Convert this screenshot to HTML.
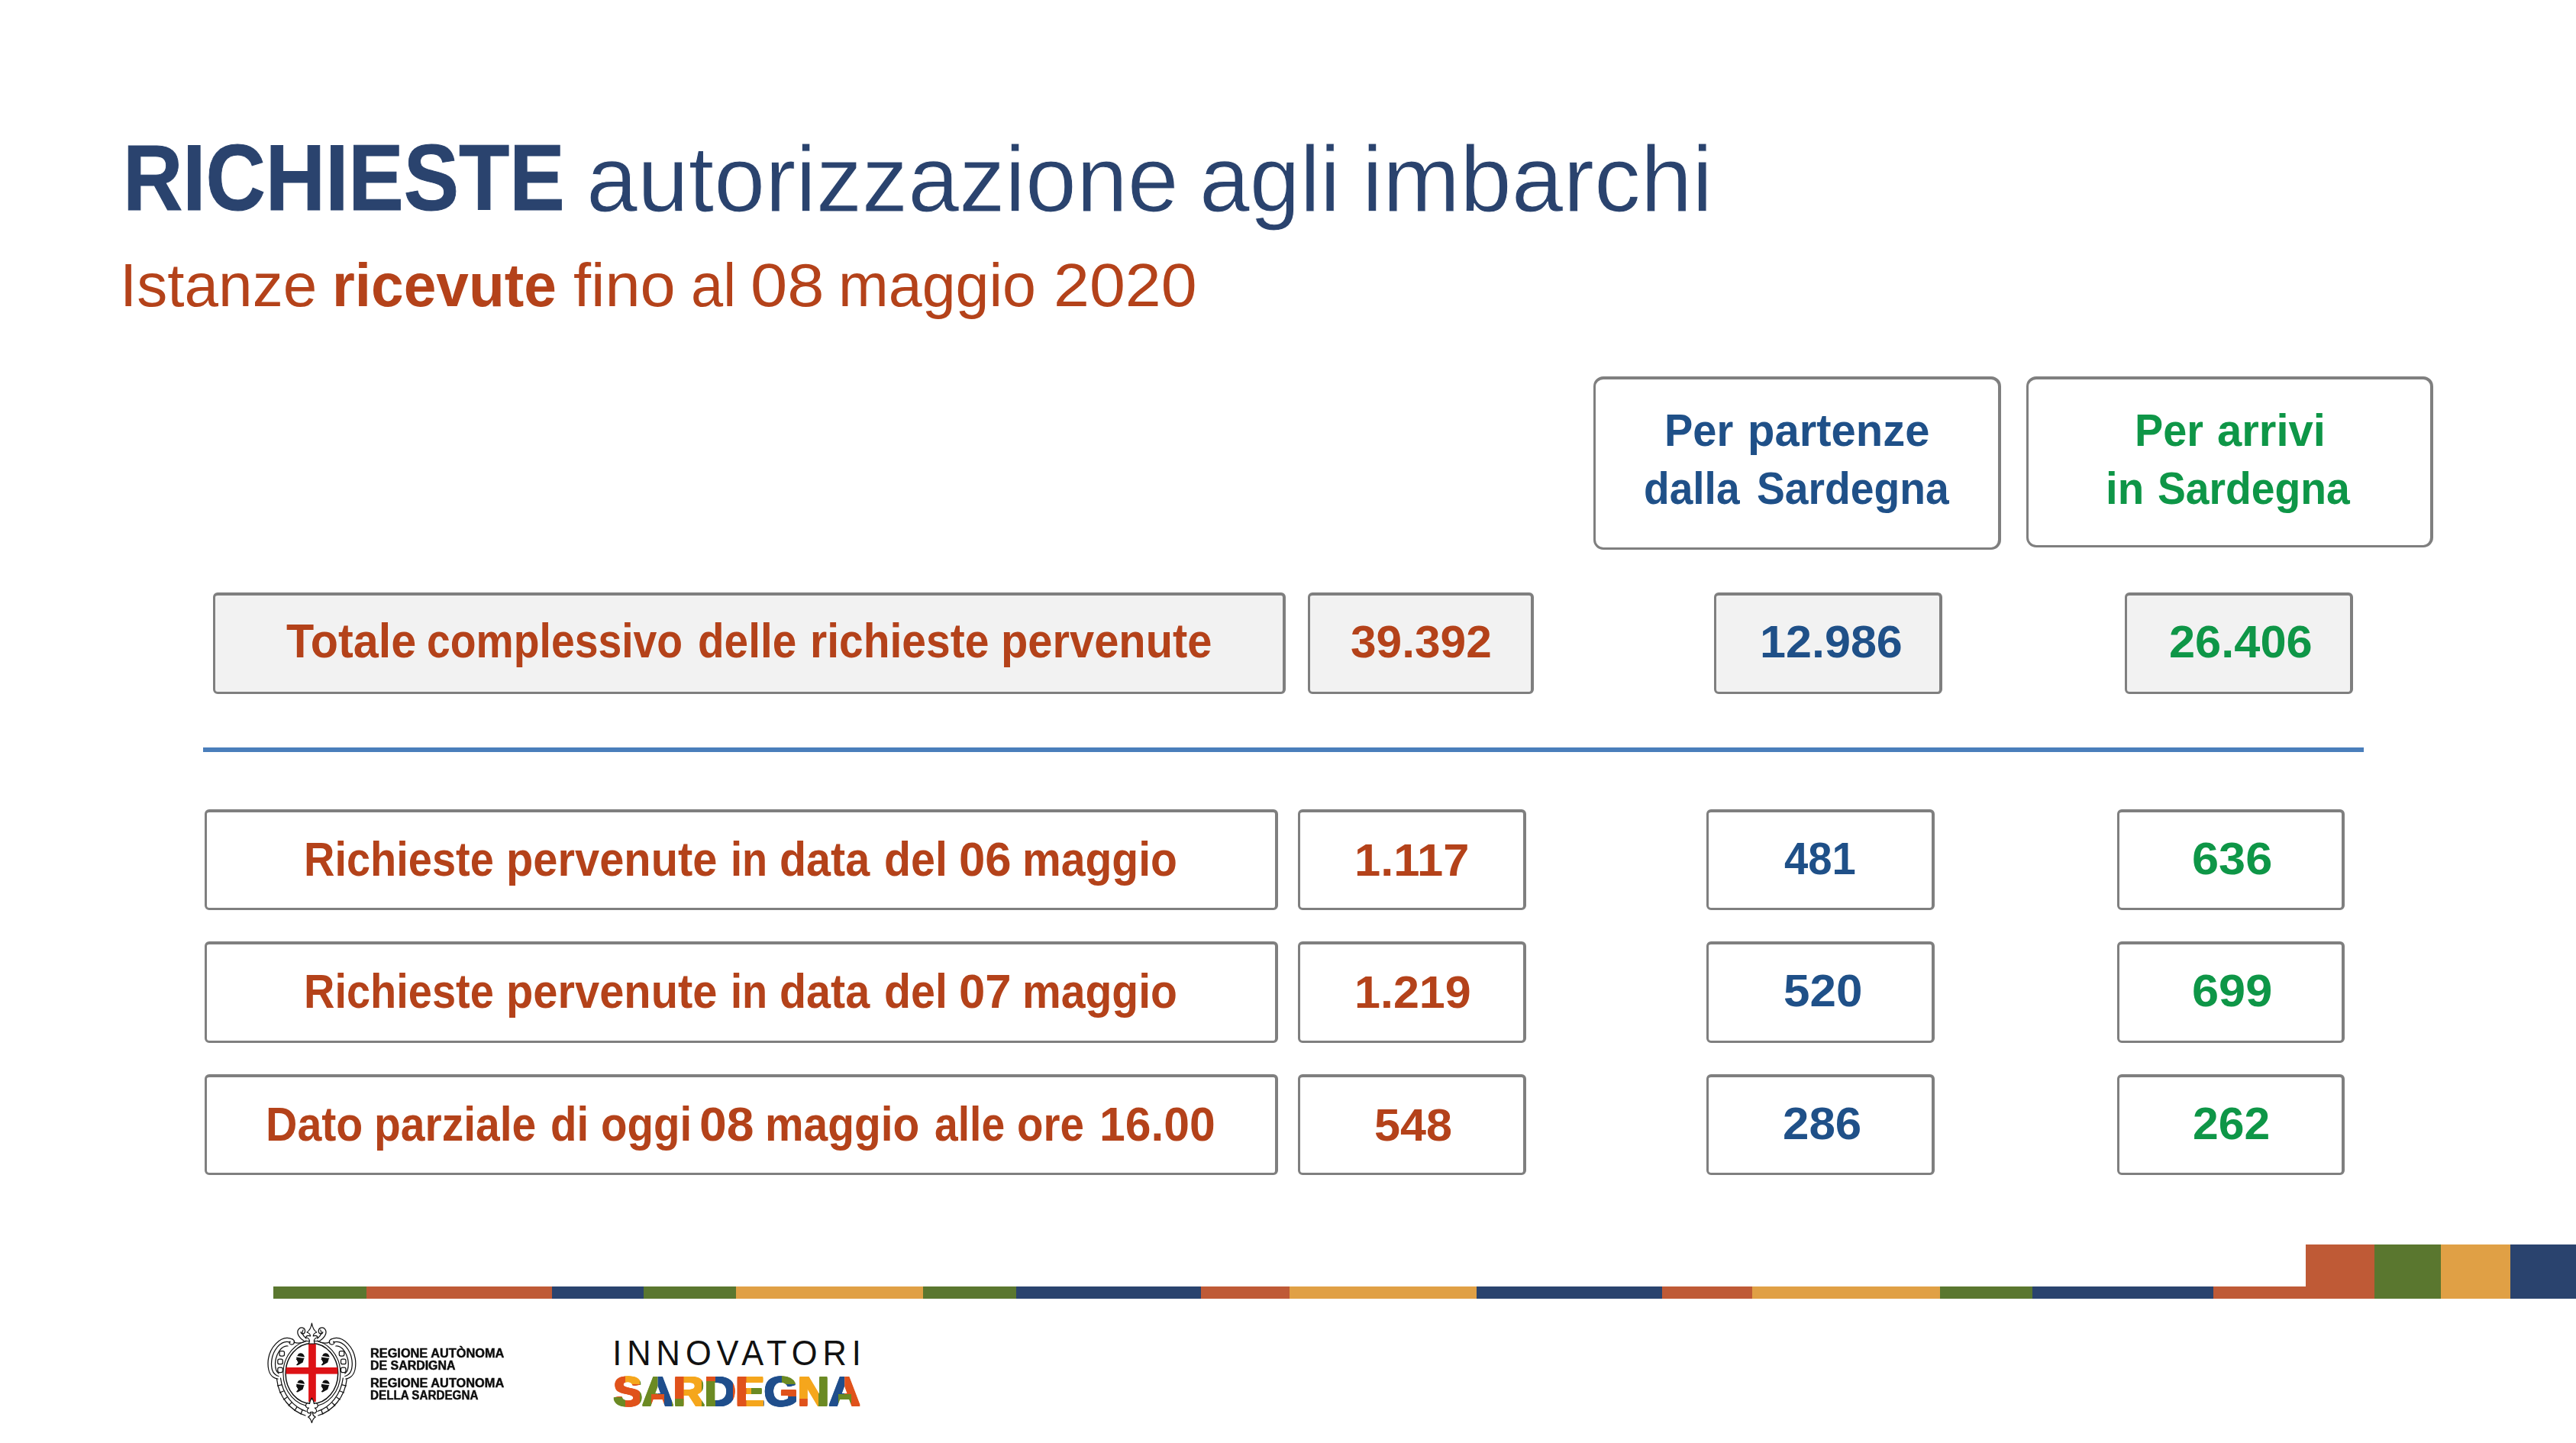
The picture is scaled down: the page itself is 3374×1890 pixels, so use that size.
<!DOCTYPE html>
<html><head><meta charset="utf-8"><title>Richieste autorizzazione agli imbarchi</title>
<style>
html,body{margin:0;padding:0;background:#fff;}
body{width:3374px;height:1890px;position:relative;overflow:hidden;font-family:"Liberation Sans",sans-serif;}
.t{position:absolute;white-space:nowrap;line-height:1;transform-origin:0 0;}
.bx{position:absolute;box-sizing:border-box;border-style:solid;border-color:#7F7F7F;}
.thin{-webkit-text-stroke:1px #fff;}
.fat{-webkit-text-stroke:1px #2A436E;}
.thin2{-webkit-text-stroke:0.8px #fff;}
.fatk{-webkit-text-stroke:0.45px #0d0d0d;}
.seg{position:absolute;}
</style></head><body>
<div class="bx" style="left:2087.3px;top:492.6px;width:533.7px;height:227.5px;background:#fff;border-radius:13px;border-width:4px 4px 3px 3px"></div>
<div class="bx" style="left:2654.4px;top:492.6px;width:532.6px;height:224.6px;background:#fff;border-radius:13px;border-width:4px 4px 3px 3px"></div>
<div class="bx" style="left:278.8px;top:776.0px;width:1405.5px;height:132.8px;background:#F2F2F2;border-radius:6px;border-width:4px 4px 3px 3px"></div>
<div class="bx" style="left:1712.7px;top:776.0px;width:295.9px;height:132.8px;background:#F2F2F2;border-radius:6px;border-width:4px 4px 3px 3px"></div>
<div class="bx" style="left:2245.0px;top:776.0px;width:298.7px;height:132.8px;background:#F2F2F2;border-radius:6px;border-width:4px 4px 3px 3px"></div>
<div class="bx" style="left:2783.1px;top:776.0px;width:298.7px;height:132.8px;background:#F2F2F2;border-radius:6px;border-width:4px 4px 3px 3px"></div>
<div class="bx" style="left:268.0px;top:1059.9px;width:1405.8px;height:132.1px;background:#fff;border-radius:6px;border-width:4px 4px 3px 3px"></div>
<div class="bx" style="left:1699.8px;top:1059.9px;width:299.0px;height:132.1px;background:#fff;border-radius:6px;border-width:4px 4px 3px 3px"></div>
<div class="bx" style="left:2235.1px;top:1059.9px;width:298.7px;height:132.1px;background:#fff;border-radius:6px;border-width:4px 4px 3px 3px"></div>
<div class="bx" style="left:2772.5px;top:1059.9px;width:298.9px;height:132.1px;background:#fff;border-radius:6px;border-width:4px 4px 3px 3px"></div>
<div class="bx" style="left:268.0px;top:1233.0px;width:1405.8px;height:132.6px;background:#fff;border-radius:6px;border-width:4px 4px 3px 3px"></div>
<div class="bx" style="left:1699.8px;top:1233.0px;width:299.0px;height:132.6px;background:#fff;border-radius:6px;border-width:4px 4px 3px 3px"></div>
<div class="bx" style="left:2235.1px;top:1233.0px;width:298.7px;height:132.6px;background:#fff;border-radius:6px;border-width:4px 4px 3px 3px"></div>
<div class="bx" style="left:2772.5px;top:1233.0px;width:298.9px;height:132.6px;background:#fff;border-radius:6px;border-width:4px 4px 3px 3px"></div>
<div class="bx" style="left:268.0px;top:1407.0px;width:1405.8px;height:132.0px;background:#fff;border-radius:6px;border-width:4px 4px 3px 3px"></div>
<div class="bx" style="left:1699.8px;top:1407.0px;width:299.0px;height:132.0px;background:#fff;border-radius:6px;border-width:4px 4px 3px 3px"></div>
<div class="bx" style="left:2235.1px;top:1407.0px;width:298.7px;height:132.0px;background:#fff;border-radius:6px;border-width:4px 4px 3px 3px"></div>
<div class="bx" style="left:2772.5px;top:1407.0px;width:298.9px;height:132.0px;background:#fff;border-radius:6px;border-width:4px 4px 3px 3px"></div>
<div class="seg" style="left:266px;top:979px;width:2830.2px;height:6px;background:#4A7EBB"></div>
<div class="t fat" style="left:160.62px;top:172.00px;font-size:122.6px;font-weight:700;color:#2A436E;transform:scaleX(0.8848)">RICHIESTE</div>
<div class="t thin" style="left:768.07px;top:174.00px;font-size:122px;font-weight:400;color:#2A436E;transform:scaleX(0.9861)">autorizzazione</div>
<div class="t thin" style="left:1570.55px;top:174.00px;font-size:122px;font-weight:400;color:#2A436E;transform:scaleX(0.9706)">agli</div>
<div class="t thin" style="left:1783.53px;top:174.00px;font-size:122px;font-weight:400;color:#2A436E;transform:scaleX(0.9962)">imbarchi</div>
<div class="t" style="left:157.29px;top:334.00px;font-size:80px;font-weight:400;color:#B4421A;transform:scaleX(1.0011)">Istanze</div>
<div class="t" style="left:434.98px;top:334.00px;font-size:79.5px;font-weight:700;color:#B4421A;transform:scaleX(0.9637)">ricevute</div>
<div class="t" style="left:750.96px;top:334.00px;font-size:80px;font-weight:400;color:#B4421A;transform:scaleX(1.0367)">fino</div>
<div class="t" style="left:904.56px;top:334.00px;font-size:80px;font-weight:400;color:#B4421A;transform:scaleX(0.9469)">al</div>
<div class="t" style="left:982.75px;top:334.00px;font-size:80px;font-weight:400;color:#B4421A;transform:scaleX(1.0839)">08</div>
<div class="t" style="left:1097.67px;top:334.00px;font-size:80px;font-weight:400;color:#B4421A;transform:scaleX(0.9867)">maggio</div>
<div class="t" style="left:1379.58px;top:334.00px;font-size:80px;font-weight:400;color:#B4421A;transform:scaleX(1.0538)">2020</div>
<div class="t" style="left:2179.87px;top:534.00px;font-size:60px;font-weight:700;color:#1F5088;transform:scaleX(0.9330)">Per</div>
<div class="t" style="left:2288.50px;top:534.00px;font-size:60px;font-weight:700;color:#1F5088;transform:scaleX(0.9663)">partenze</div>
<div class="t" style="left:2153.46px;top:610.00px;font-size:60px;font-weight:700;color:#1F5088;transform:scaleX(0.9183)">dalla</div>
<div class="t" style="left:2301.38px;top:610.00px;font-size:60px;font-weight:700;color:#1F5088;transform:scaleX(0.9210)">Sardegna</div>
<div class="t" style="left:2796.28px;top:534.00px;font-size:60px;font-weight:700;color:#0E9647;transform:scaleX(0.9298)">Per</div>
<div class="t" style="left:2903.83px;top:534.00px;font-size:60px;font-weight:700;color:#0E9647;transform:scaleX(0.9669)">arrivi</div>
<div class="t" style="left:2758.23px;top:610.00px;font-size:60px;font-weight:700;color:#0E9647;transform:scaleX(0.9415)">in</div>
<div class="t" style="left:2825.68px;top:610.00px;font-size:60px;font-weight:700;color:#0E9647;transform:scaleX(0.9207)">Sardegna</div>
<div class="t" style="left:374.90px;top:809.00px;font-size:62.4px;font-weight:700;color:#B4421A;transform:scaleX(0.9498)">Totale</div>
<div class="t" style="left:558.93px;top:809.00px;font-size:62.4px;font-weight:700;color:#B4421A;transform:scaleX(0.8867)">complessivo</div>
<div class="t" style="left:914.38px;top:809.00px;font-size:62.4px;font-weight:700;color:#B4421A;transform:scaleX(0.9084)">delle</div>
<div class="t" style="left:1061.25px;top:809.00px;font-size:62.4px;font-weight:700;color:#B4421A;transform:scaleX(0.9134)">richieste</div>
<div class="t" style="left:1311.39px;top:809.00px;font-size:62.4px;font-weight:700;color:#B4421A;transform:scaleX(0.9269)">pervenute</div>
<div class="t" style="left:1768.68px;top:811.00px;font-size:59.5px;font-weight:700;color:#B4421A;transform:scaleX(1.0157)">39.392</div>
<div class="t" style="left:2304.52px;top:811.00px;font-size:59.5px;font-weight:700;color:#1F5088;transform:scaleX(1.0266)">12.986</div>
<div class="t" style="left:2840.84px;top:811.00px;font-size:59.5px;font-weight:700;color:#0E9647;transform:scaleX(1.0309)">26.406</div>
<div class="t" style="left:398.21px;top:1095.00px;font-size:62.4px;font-weight:700;color:#B4421A;transform:scaleX(0.8969)">Richieste</div>
<div class="t" style="left:662.79px;top:1095.00px;font-size:62.4px;font-weight:700;color:#B4421A;transform:scaleX(0.9269)">pervenute</div>
<div class="t" style="left:956.53px;top:1095.00px;font-size:62.4px;font-weight:700;color:#B4421A;transform:scaleX(0.8669)">in</div>
<div class="t" style="left:1021.46px;top:1095.00px;font-size:62.4px;font-weight:700;color:#B4421A;transform:scaleX(0.9209)">data</div>
<div class="t" style="left:1158.26px;top:1095.00px;font-size:62.4px;font-weight:700;color:#B4421A;transform:scaleX(0.9188)">del</div>
<div class="t" style="left:1255.52px;top:1095.00px;font-size:62.4px;font-weight:700;color:#B4421A;transform:scaleX(0.9894)">06</div>
<div class="t" style="left:1339.34px;top:1095.00px;font-size:62.4px;font-weight:700;color:#B4421A;transform:scaleX(0.9146)">maggio</div>
<div class="t" style="left:1774.00px;top:1097.00px;font-size:59.5px;font-weight:700;color:#B4421A;transform:scaleX(1.0333)">1.117</div>
<div class="t" style="left:2336.90px;top:1095.00px;font-size:59.5px;font-weight:700;color:#1F5088;transform:scaleX(0.9452)">481</div>
<div class="t" style="left:2870.88px;top:1095.00px;font-size:59.5px;font-weight:700;color:#0E9647;transform:scaleX(1.0601)">636</div>
<div class="t" style="left:398.21px;top:1268.00px;font-size:62.4px;font-weight:700;color:#B4421A;transform:scaleX(0.8969)">Richieste</div>
<div class="t" style="left:662.79px;top:1268.00px;font-size:62.4px;font-weight:700;color:#B4421A;transform:scaleX(0.9269)">pervenute</div>
<div class="t" style="left:956.53px;top:1268.00px;font-size:62.4px;font-weight:700;color:#B4421A;transform:scaleX(0.8669)">in</div>
<div class="t" style="left:1021.46px;top:1268.00px;font-size:62.4px;font-weight:700;color:#B4421A;transform:scaleX(0.9209)">data</div>
<div class="t" style="left:1158.26px;top:1268.00px;font-size:62.4px;font-weight:700;color:#B4421A;transform:scaleX(0.9188)">del</div>
<div class="t" style="left:1255.52px;top:1268.00px;font-size:62.4px;font-weight:700;color:#B4421A;transform:scaleX(0.9892)">07</div>
<div class="t" style="left:1339.34px;top:1268.00px;font-size:62.4px;font-weight:700;color:#B4421A;transform:scaleX(0.9146)">maggio</div>
<div class="t" style="left:1774.02px;top:1270.00px;font-size:59.5px;font-weight:700;color:#B4421A;transform:scaleX(1.0257)">1.219</div>
<div class="t" style="left:2335.86px;top:1268.00px;font-size:59.5px;font-weight:700;color:#1F5088;transform:scaleX(1.0407)">520</div>
<div class="t" style="left:2870.88px;top:1268.00px;font-size:59.5px;font-weight:700;color:#0E9647;transform:scaleX(1.0601)">699</div>
<div class="t" style="left:347.83px;top:1442.00px;font-size:62.4px;font-weight:700;color:#B4421A;transform:scaleX(0.9183)">Dato</div>
<div class="t" style="left:490.05px;top:1442.00px;font-size:62.4px;font-weight:700;color:#B4421A;transform:scaleX(0.9133)">parziale</div>
<div class="t" style="left:721.19px;top:1442.00px;font-size:62.4px;font-weight:700;color:#B4421A;transform:scaleX(0.9041)">di</div>
<div class="t" style="left:787.09px;top:1442.00px;font-size:62.4px;font-weight:700;color:#B4421A;transform:scaleX(0.9056)">oggi</div>
<div class="t" style="left:916.44px;top:1442.00px;font-size:62.4px;font-weight:700;color:#B4421A;transform:scaleX(1.0305)">08</div>
<div class="t" style="left:1002.45px;top:1442.00px;font-size:62.4px;font-weight:700;color:#B4421A;transform:scaleX(0.9123)">maggio</div>
<div class="t" style="left:1224.32px;top:1442.00px;font-size:62.4px;font-weight:700;color:#B4421A;transform:scaleX(0.8849)">alle</div>
<div class="t" style="left:1332.29px;top:1442.00px;font-size:62.4px;font-weight:700;color:#B4421A;transform:scaleX(0.9048)">ore</div>
<div class="t" style="left:1440.08px;top:1442.00px;font-size:62.4px;font-weight:700;color:#B4421A;transform:scaleX(0.9727)">16.00</div>
<div class="t" style="left:1800.37px;top:1444.00px;font-size:59.5px;font-weight:700;color:#B4421A;transform:scaleX(1.0269)">548</div>
<div class="t" style="left:2335.42px;top:1442.00px;font-size:59.5px;font-weight:700;color:#1F5088;transform:scaleX(1.0401)">286</div>
<div class="t" style="left:2871.96px;top:1442.00px;font-size:59.5px;font-weight:700;color:#0E9647;transform:scaleX(1.0191)">262</div>
<div class="t fatk" style="left:484.67px;top:1765.00px;font-size:15.8px;font-weight:700;color:#0d0d0d;transform:scaleX(1.0329)">REGIONE AUTÒNOMA</div>
<div class="t fatk" style="left:484.69px;top:1781.00px;font-size:15.8px;font-weight:700;color:#0d0d0d;transform:scaleX(1.0084)">DE SARDIGNA</div>
<div class="t fatk" style="left:484.67px;top:1804.00px;font-size:15.8px;font-weight:700;color:#0d0d0d;transform:scaleX(1.0346)">REGIONE AUTONOMA</div>
<div class="t fatk" style="left:484.74px;top:1820.00px;font-size:15.8px;font-weight:700;color:#0d0d0d;transform:scaleX(0.9628)">DELLA SARDEGNA</div>
<div class="seg" style="left:357.7px;top:1685px;width:122.7px;height:16.2px;background:#5A772F"></div>
<div class="seg" style="left:479.9px;top:1685px;width:243.7px;height:16.2px;background:#BF5A36"></div>
<div class="seg" style="left:723.1px;top:1685px;width:120.3px;height:16.2px;background:#2A436E"></div>
<div class="seg" style="left:842.9px;top:1685px;width:121.8px;height:16.2px;background:#5A772F"></div>
<div class="seg" style="left:964.2px;top:1685px;width:245.4px;height:16.2px;background:#E0A045"></div>
<div class="seg" style="left:1209.1px;top:1685px;width:122.3px;height:16.2px;background:#5A772F"></div>
<div class="seg" style="left:1330.9px;top:1685px;width:242.4px;height:16.2px;background:#2A436E"></div>
<div class="seg" style="left:1572.8px;top:1685px;width:116.6px;height:16.2px;background:#BF5A36"></div>
<div class="seg" style="left:1688.9px;top:1685px;width:245.3px;height:16.2px;background:#E0A045"></div>
<div class="seg" style="left:1933.7px;top:1685px;width:244.1px;height:16.2px;background:#2A436E"></div>
<div class="seg" style="left:2177.3px;top:1685px;width:118.2px;height:16.2px;background:#BF5A36"></div>
<div class="seg" style="left:2295.0px;top:1685px;width:246.2px;height:16.2px;background:#E0A045"></div>
<div class="seg" style="left:2540.7px;top:1685px;width:122.0px;height:16.2px;background:#5A772F"></div>
<div class="seg" style="left:2662.2px;top:1685px;width:237.5px;height:16.2px;background:#2A436E"></div>
<div class="seg" style="left:2899.2px;top:1685px;width:121.1px;height:16.2px;background:#BF5A36"></div>
<div class="seg" style="left:3019.8px;top:1629.8px;width:90.5px;height:71.4px;background:#BF5A36"></div>
<div class="seg" style="left:3109.8px;top:1629.8px;width:87.8px;height:71.4px;background:#5A772F"></div>
<div class="seg" style="left:3197.1px;top:1629.8px;width:91.3px;height:71.4px;background:#E0A045"></div>
<div class="seg" style="left:3287.9px;top:1629.8px;width:86.6px;height:71.4px;background:#2A436E"></div>
<svg class="seg" style="left:340px;top:1720px" width="140" height="155" viewBox="340 1720 140 155">
<defs>
<g id="half" fill="none" stroke="#111" stroke-width="1.25" stroke-linecap="round" stroke-linejoin="round">
<!-- big side scroll, 3 lines -->
<path d="M383 1754 C368 1747 351 1766 351 1786 C351 1798 356 1805 364 1806"/>
<path d="M380 1758 C368 1754 356 1769 355.500 1786 C355.500 1796 359 1801 365 1802.500"/>
<path d="M377 1763 C369 1762 361 1773 360.500 1786 C360.500 1793 362 1797 365 1799"/>
<!-- curl at top of scroll -->
<path d="M383 1754 C387 1756 386 1761 382 1761 C379 1761 378 1758 380 1757"/>
<!-- beads -->
<rect x="366" y="1769.500" width="6.500" height="6.500" rx="2"/>
<rect x="363.800" y="1780.200" width="6.500" height="6.500" rx="2"/>
<rect x="363.800" y="1791" width="6.500" height="6.500" rx="2"/>
<!-- lower frame double line with ticks -->
<path d="M362.500 1806 C365 1830 381 1848 400 1854"/>
<path d="M367.500 1805 C370 1826 384 1843 401 1848.500"/>
<path d="M363.500 1815 l5 -1.200 M366.500 1824 l4.800 -2 M371.500 1833 l4.300 -2.800 M378 1841 l3.600 -3.600 M386 1847.500 l2.600 -4.200 M394 1852 l1.800 -4.600"/>
<!-- upper curl near the top -->
<path d="M398 1756 C391 1752 388 1745 391 1741 C394 1737 400 1739 399.500 1744 C399 1748 394 1748 394 1744.500"/>
<path d="M401 1753 C396 1749 395 1745 397 1742"/>
<path d="M385 1758 C390 1760 396 1759 401 1756"/>
</g>
<g id="head"><path d="M-5.5 -2.5 L5.2 -1 L4.2 0.6 C4.2 2.2 3.3 3 3.1 4.6 L-3.6 8.3 L-5.6 7.9 L-3.3 4.9 L-3.2 3.8 L-4.4 2.5 L-4.5 1.3 L-5.8 0.7 L-5 -0.9 Z"/><path d="M-3.6 -4.9 C-2.4 -8.8 3.8 -8.8 5.4 -3.1 L5.2 -2.4 L-4.4 -4 Z"/></g>
</defs>
<use href="#half"/>
<use href="#half" transform="translate(816.8 0) scale(-1 1)"/>
<!-- ovals -->
<ellipse cx="408.400" cy="1799" rx="37.500" ry="43" fill="none" stroke="#111" stroke-width="1.1"/>
<ellipse cx="408.400" cy="1799" rx="34.300" ry="39.600" fill="#fff" stroke="#111" stroke-width="1.5"/>
<!-- cross -->
<rect x="404.100" y="1760" width="9.700" height="76" fill="#DD1216"/>
<rect x="374.600" y="1791" width="67.700" height="8.600" fill="#DD1216"/>
<!-- heads -->
<g fill="#111">
<use href="#head" transform="translate(393.5 1780)"/><use href="#head" transform="translate(426.2 1780)"/>
<use href="#head" transform="translate(393.5 1815.2)"/><use href="#head" transform="translate(426.2 1815.2)"/>
</g>
<!-- top fleur -->
<g fill="#fff" stroke="#111" stroke-width="1.2" stroke-linejoin="round">
<path d="M408.400 1733 C407.500 1739 405 1743 402 1745 C405 1746 406.500 1748 406.500 1750 C404 1749 401.500 1749.500 400.500 1751.500 C403 1752 405 1753.500 405.500 1756 L404.500 1760 L412.300 1760 L411.300 1756 C411.800 1753.500 413.800 1752 416.300 1751.500 C415.300 1749.500 412.800 1749 410.300 1750 C410.300 1748 411.800 1746 414.800 1745 C411.800 1743 409.300 1739 408.400 1733 Z"/>
<!-- bottom fleur -->
<path d="M408.400 1831 C406.500 1834 405.500 1836 405.500 1838.500 C403.500 1837 400.800 1838 400.500 1840.500 C400.200 1843 402.500 1844.500 404.500 1844 C402.500 1845.500 401.500 1848 403 1850 C404.500 1851.500 407 1851 407.500 1849 C407.800 1853 405.500 1855 403.500 1856 C406 1857 407.500 1860 408.400 1863.500 C409.300 1860 410.800 1857 413.300 1856 C411.300 1855 409 1853 409.300 1849 C409.800 1851 412.300 1851.500 413.800 1850 C415.300 1848 414.300 1845.500 412.300 1844 C414.300 1844.500 416.600 1843 416.300 1840.500 C416 1838 413.300 1837 411.300 1838.500 C411.300 1836 410.300 1834 408.400 1831 Z"/>
</g>
</svg>
<svg class="seg" style="left:790px;top:1740px" width="350" height="115" viewBox="790 1740 350 115">
<text transform="translate(802.3 1787.6) scale(0.93 1)" x="0" y="0" font-family="Liberation Sans, sans-serif" font-size="46.7" fill="#111" textLength="350" lengthAdjust="spacing">INNOVATORI</text>
<defs><clipPath id="sc"><text x="802.00" y="1840.00" font-family="Liberation Sans, sans-serif" font-weight="700" font-size="53.500" textLength="323" lengthAdjust="spacingAndGlyphs">SARDEGNA</text><text x="802.00" y="1841.00" font-family="Liberation Sans, sans-serif" font-weight="700" font-size="53.500" textLength="323" lengthAdjust="spacingAndGlyphs">SARDEGNA</text><text x="802.00" y="1842.00" font-family="Liberation Sans, sans-serif" font-weight="700" font-size="53.500" textLength="323" lengthAdjust="spacingAndGlyphs">SARDEGNA</text><text x="802.75" y="1840.00" font-family="Liberation Sans, sans-serif" font-weight="700" font-size="53.500" textLength="323" lengthAdjust="spacingAndGlyphs">SARDEGNA</text><text x="802.75" y="1841.00" font-family="Liberation Sans, sans-serif" font-weight="700" font-size="53.500" textLength="323" lengthAdjust="spacingAndGlyphs">SARDEGNA</text><text x="802.75" y="1842.00" font-family="Liberation Sans, sans-serif" font-weight="700" font-size="53.500" textLength="323" lengthAdjust="spacingAndGlyphs">SARDEGNA</text><text x="803.50" y="1840.00" font-family="Liberation Sans, sans-serif" font-weight="700" font-size="53.500" textLength="323" lengthAdjust="spacingAndGlyphs">SARDEGNA</text><text x="803.50" y="1841.00" font-family="Liberation Sans, sans-serif" font-weight="700" font-size="53.500" textLength="323" lengthAdjust="spacingAndGlyphs">SARDEGNA</text><text x="803.50" y="1842.00" font-family="Liberation Sans, sans-serif" font-weight="700" font-size="53.500" textLength="323" lengthAdjust="spacingAndGlyphs">SARDEGNA</text><text x="804.25" y="1840.00" font-family="Liberation Sans, sans-serif" font-weight="700" font-size="53.500" textLength="323" lengthAdjust="spacingAndGlyphs">SARDEGNA</text><text x="804.25" y="1841.00" font-family="Liberation Sans, sans-serif" font-weight="700" font-size="53.500" textLength="323" lengthAdjust="spacingAndGlyphs">SARDEGNA</text><text x="804.25" y="1842.00" font-family="Liberation Sans, sans-serif" font-weight="700" font-size="53.500" textLength="323" lengthAdjust="spacingAndGlyphs">SARDEGNA</text><text x="805.00" y="1840.00" font-family="Liberation Sans, sans-serif" font-weight="700" font-size="53.500" textLength="323" lengthAdjust="spacingAndGlyphs">SARDEGNA</text><text x="805.00" y="1841.00" font-family="Liberation Sans, sans-serif" font-weight="700" font-size="53.500" textLength="323" lengthAdjust="spacingAndGlyphs">SARDEGNA</text><text x="805.00" y="1842.00" font-family="Liberation Sans, sans-serif" font-weight="700" font-size="53.500" textLength="323" lengthAdjust="spacingAndGlyphs">SARDEGNA</text></clipPath></defs>
<g clip-path="url(#sc)">
<rect x="796" y="1794" width="44.0" height="56.0" fill="#E0521B"/>
<rect x="819" y="1794" width="21.0" height="19.0" fill="#F5A61C"/>
<rect x="796" y="1830" width="23.0" height="20.0" fill="#6B8A23"/>
<rect x="838" y="1794" width="23.6" height="56.0" fill="#6B8A23"/>
<rect x="861.6" y="1794" width="22.4" height="56.0" fill="#1F4E8C"/>
<rect x="853" y="1826" width="17.0" height="12.0" fill="#E0521B"/>
<rect x="882" y="1794" width="39.0" height="56.0" fill="#F5A61C"/>
<rect x="880" y="1794" width="15.5" height="56.0" fill="#E0521B"/>
<rect x="880" y="1832" width="15.5" height="18.0" fill="#6B8A23"/>
<rect x="921" y="1794" width="43.0" height="56.0" fill="#1F4E8C"/>
<rect x="919" y="1794" width="18.0" height="56.0" fill="#6B8A23"/>
<rect x="919" y="1794" width="18.0" height="15.0" fill="#E0521B"/>
<rect x="962" y="1794" width="39.0" height="56.0" fill="#F5A61C"/>
<rect x="960" y="1794" width="17.5" height="56.0" fill="#E0521B"/>
<rect x="984" y="1814" width="17.0" height="14.0" fill="#6B8A23"/>
<rect x="1000" y="1794" width="46.0" height="56.0" fill="#1F4E8C"/>
<rect x="1024" y="1794" width="22.0" height="19.0" fill="#6B8A23"/>
<rect x="1022" y="1818" width="24.0" height="11.0" fill="#E0521B"/>
<rect x="1045.5" y="1794" width="41.5" height="56.0" fill="#F5A61C"/>
<rect x="1045.5" y="1832" width="14.0" height="18.0" fill="#E0521B"/>
<rect x="1072" y="1794" width="15.0" height="56.0" fill="#6B8A23"/>
<rect x="1085" y="1794" width="21.2" height="56.0" fill="#1F4E8C"/>
<rect x="1106.2" y="1794" width="25.8" height="56.0" fill="#E0521B"/>
<rect x="1098" y="1826" width="17.0" height="12.0" fill="#6B8A23"/>
</g>
</svg>
</body></html>
